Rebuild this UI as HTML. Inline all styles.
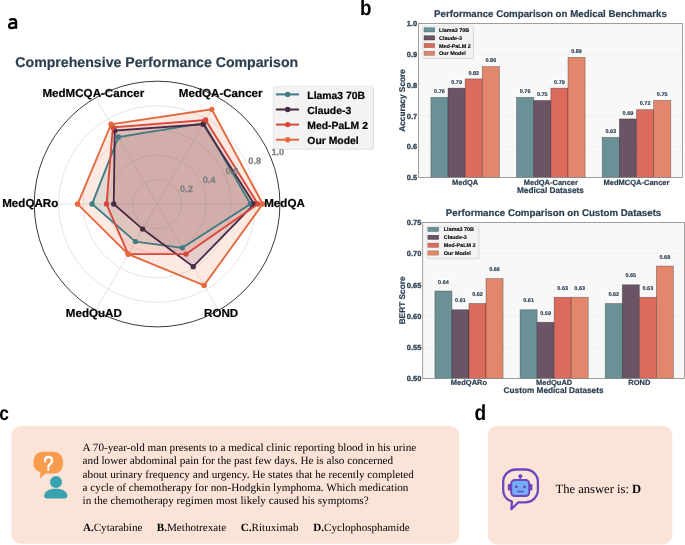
<!DOCTYPE html><html><head><meta charset="utf-8"><style>html,body{margin:0;padding:0;background:#fff;width:685px;height:545px;overflow:hidden}svg{display:block;will-change:transform}text{text-rendering:geometricPrecision}</style></head><body>
<svg width="685" height="545" viewBox="0 0 685 545">
<path d="M9.4,20.2 C10.5,19.3 11.8,19.1 12.9,19.1 C15.2,19.1 16.1,20.3 16.1,22.3 V28.8 M16.1,23.5 C14.8,23.2 13.4,23.1 12.3,23.2 C10.1,23.4 9.1,24.6 9.1,26 C9.1,27.5 10,28 11.3,28 C13.6,28 16,26.9 16.1,25" fill="none" stroke="#000" stroke-width="2.3"/>
<text transform="translate(360.1,15.4) scale(0.875,1)" font-family='"Liberation Sans", sans-serif' font-weight="bold" font-size="21.5" fill="#000">b</text>
<text transform="translate(-0.8,419.8) scale(0.87,1)" font-family='"Liberation Sans", sans-serif' font-weight="bold" font-size="20" fill="#000">c</text>
<text transform="translate(474.6,419.7) scale(0.875,1)" font-family='"Liberation Sans", sans-serif' font-weight="bold" font-size="21.8" fill="#000">d</text>
<text x="15.3" y="66.6" font-family='"Liberation Sans", sans-serif' font-weight="bold" font-size="14.15" fill="#2c3e50" stroke="#2c3e50" stroke-width="0.2">Comprehensive Performance Comparison</text>
<circle cx="157.1" cy="204.05" r="24.57" fill="none" stroke="#dadada" stroke-width="0.7"/>
<circle cx="157.1" cy="204.05" r="49.14" fill="none" stroke="#dadada" stroke-width="0.7"/>
<circle cx="157.1" cy="204.05" r="73.71" fill="none" stroke="#dadada" stroke-width="0.7"/>
<circle cx="157.1" cy="204.05" r="98.28" fill="none" stroke="#dadada" stroke-width="0.7"/>
<line x1="157.1" y1="204.05" x2="279.95" y2="204.05" stroke="#dadada" stroke-width="0.7"/>
<line x1="157.1" y1="204.05" x2="218.53" y2="97.66" stroke="#dadada" stroke-width="0.7"/>
<line x1="157.1" y1="204.05" x2="95.68" y2="97.66" stroke="#dadada" stroke-width="0.7"/>
<line x1="157.1" y1="204.05" x2="34.25" y2="204.05" stroke="#dadada" stroke-width="0.7"/>
<line x1="157.1" y1="204.05" x2="95.67" y2="310.44" stroke="#dadada" stroke-width="0.7"/>
<line x1="157.1" y1="204.05" x2="218.53" y2="310.44" stroke="#dadada" stroke-width="0.7"/>
<polygon points="250.47,204.05 203.78,123.19 118.40,137.02 92.06,204.05 135.42,241.60 182.39,247.86" fill="#3e7c82" fill-opacity="0.15" stroke="none"/>
<polygon points="254.15,204.05 203.17,124.26 114.72,130.64 113.74,204.05 142.65,229.08 193.23,266.63" fill="#4a2b47" fill-opacity="0.15" stroke="none"/>
<polygon points="257.84,204.05 205.63,120.00 112.87,127.45 106.51,204.05 128.19,254.12 186.01,254.12" fill="#d8483a" fill-opacity="0.15" stroke="none"/>
<polygon points="262.75,204.05 211.77,109.36 111.03,124.26 77.61,204.05 128.19,254.12 204.07,285.41" fill="#e4693f" fill-opacity="0.15" stroke="none"/>
<polygon points="250.47,204.05 203.78,123.19 118.40,137.02 92.06,204.05 135.42,241.60 182.39,247.86" fill="none" stroke="#3e7c82" stroke-width="1.85" stroke-linejoin="miter"/>
<circle cx="250.47" cy="204.05" r="2.7" fill="#3e7c82"/>
<circle cx="203.78" cy="123.19" r="2.7" fill="#3e7c82"/>
<circle cx="118.40" cy="137.02" r="2.7" fill="#3e7c82"/>
<circle cx="92.06" cy="204.05" r="2.7" fill="#3e7c82"/>
<circle cx="135.42" cy="241.60" r="2.7" fill="#3e7c82"/>
<circle cx="182.39" cy="247.86" r="2.7" fill="#3e7c82"/>
<polygon points="254.15,204.05 203.17,124.26 114.72,130.64 113.74,204.05 142.65,229.08 193.23,266.63" fill="none" stroke="#4a2b47" stroke-width="1.85" stroke-linejoin="miter"/>
<circle cx="254.15" cy="204.05" r="2.7" fill="#4a2b47"/>
<circle cx="203.17" cy="124.26" r="2.7" fill="#4a2b47"/>
<circle cx="114.72" cy="130.64" r="2.7" fill="#4a2b47"/>
<circle cx="113.74" cy="204.05" r="2.7" fill="#4a2b47"/>
<circle cx="142.65" cy="229.08" r="2.7" fill="#4a2b47"/>
<circle cx="193.23" cy="266.63" r="2.7" fill="#4a2b47"/>
<polygon points="257.84,204.05 205.63,120.00 112.87,127.45 106.51,204.05 128.19,254.12 186.01,254.12" fill="none" stroke="#d8483a" stroke-width="1.85" stroke-linejoin="miter"/>
<circle cx="257.84" cy="204.05" r="2.7" fill="#d8483a"/>
<circle cx="205.63" cy="120.00" r="2.7" fill="#d8483a"/>
<circle cx="112.87" cy="127.45" r="2.7" fill="#d8483a"/>
<circle cx="106.51" cy="204.05" r="2.7" fill="#d8483a"/>
<circle cx="128.19" cy="254.12" r="2.7" fill="#d8483a"/>
<circle cx="186.01" cy="254.12" r="2.7" fill="#d8483a"/>
<polygon points="262.75,204.05 211.77,109.36 111.03,124.26 77.61,204.05 128.19,254.12 204.07,285.41" fill="none" stroke="#e4693f" stroke-width="1.85" stroke-linejoin="miter"/>
<circle cx="262.75" cy="204.05" r="2.7" fill="#e4693f"/>
<circle cx="211.77" cy="109.36" r="2.7" fill="#e4693f"/>
<circle cx="111.03" cy="124.26" r="2.7" fill="#e4693f"/>
<circle cx="77.61" cy="204.05" r="2.7" fill="#e4693f"/>
<circle cx="128.19" cy="254.12" r="2.7" fill="#e4693f"/>
<circle cx="204.07" cy="285.41" r="2.7" fill="#e4693f"/>
<text x="186.4" y="192.4" text-anchor="middle" font-family='"Liberation Sans", sans-serif' font-weight="bold" font-size="9.2" fill="#7f7f7f" stroke="#7f7f7f" stroke-width="0.25">0.2</text>
<text x="209.1" y="183.2" text-anchor="middle" font-family='"Liberation Sans", sans-serif' font-weight="bold" font-size="9.2" fill="#7f7f7f" stroke="#7f7f7f" stroke-width="0.25">0.4</text>
<text x="232.1" y="174.2" text-anchor="middle" font-family='"Liberation Sans", sans-serif' font-weight="bold" font-size="9.2" fill="#7f7f7f" stroke="#7f7f7f" stroke-width="0.25">0.6</text>
<text x="254.7" y="164.4" text-anchor="middle" font-family='"Liberation Sans", sans-serif' font-weight="bold" font-size="9.2" fill="#7f7f7f" stroke="#7f7f7f" stroke-width="0.25">0.8</text>
<text x="277.8" y="155.2" text-anchor="middle" font-family='"Liberation Sans", sans-serif' font-weight="bold" font-size="9.2" fill="#7f7f7f" stroke="#7f7f7f" stroke-width="0.25">1.0</text>
<text x="264.2" y="206.6" font-family='"Liberation Sans", sans-serif' font-weight="bold" font-size="11.6" fill="#000" stroke="#000" stroke-width="0.2">MedQA</text>
<text x="178.8" y="96.8" font-family='"Liberation Sans", sans-serif' font-weight="bold" font-size="11.6" fill="#000" stroke="#000" stroke-width="0.2">MedQA-Cancer</text>
<text x="42.4" y="96.8" font-family='"Liberation Sans", sans-serif' font-weight="bold" font-size="11.6" fill="#000" stroke="#000" stroke-width="0.2">MedMCQA-Cancer</text>
<text x="2.2" y="206.6" font-family='"Liberation Sans", sans-serif' font-weight="bold" font-size="11.6" fill="#000" stroke="#000" stroke-width="0.2">MedQARo</text>
<text x="65.8" y="316.5" font-family='"Liberation Sans", sans-serif' font-weight="bold" font-size="11.6" fill="#000" stroke="#000" stroke-width="0.2">MedQuAD</text>
<text x="204.1" y="316.5" font-family='"Liberation Sans", sans-serif' font-weight="bold" font-size="11.6" fill="#000" stroke="#000" stroke-width="0.2">ROND</text>
<circle cx="157.1" cy="204.05" r="122.85" fill="none" stroke="#222" stroke-width="0.9"/>
<rect x="274.1" y="87.2" width="99.9" height="62.4" rx="2" fill="#000" fill-opacity="0.12"/>
<rect x="273.3" y="86.4" width="99.9" height="62.6" rx="2" fill="#f3f3f3" stroke="#dadada" stroke-width="0.6"/>
<line x1="275.9" y1="94.4" x2="299" y2="94.4" stroke="#3e7c82" stroke-width="2"/>
<circle cx="287.7" cy="94.4" r="2.7" fill="#3e7c82"/>
<text x="307.3" y="98.5" font-family='"Liberation Sans", sans-serif' font-weight="bold" font-size="10.4" fill="#000" stroke="#000" stroke-width="0.2">Llama3 70B</text>
<line x1="275.9" y1="109.5" x2="299" y2="109.5" stroke="#4a2b47" stroke-width="2"/>
<circle cx="287.7" cy="109.5" r="2.7" fill="#4a2b47"/>
<text x="307.3" y="113.6" font-family='"Liberation Sans", sans-serif' font-weight="bold" font-size="10.4" fill="#000" stroke="#000" stroke-width="0.2">Claude-3</text>
<line x1="275.9" y1="124.6" x2="299" y2="124.6" stroke="#d8483a" stroke-width="2"/>
<circle cx="287.7" cy="124.6" r="2.7" fill="#d8483a"/>
<text x="307.3" y="128.7" font-family='"Liberation Sans", sans-serif' font-weight="bold" font-size="10.4" fill="#000" stroke="#000" stroke-width="0.2">Med-PaLM 2</text>
<line x1="275.9" y1="139.7" x2="299" y2="139.7" stroke="#e4693f" stroke-width="2"/>
<circle cx="287.7" cy="139.7" r="2.7" fill="#e4693f"/>
<text x="307.3" y="143.8" font-family='"Liberation Sans", sans-serif' font-weight="bold" font-size="10.4" fill="#000" stroke="#000" stroke-width="0.2">Our Model</text>
<rect x="418.5" y="23.5" width="263.9" height="153.9" fill="#f8f8f8"/>
<line x1="418.5" y1="177.40" x2="682.4" y2="177.40" stroke="#e8e8e8" stroke-width="0.6" stroke-dasharray="3,1"/>
<line x1="418.5" y1="146.62" x2="682.4" y2="146.62" stroke="#e8e8e8" stroke-width="0.6" stroke-dasharray="3,1"/>
<line x1="418.5" y1="115.84" x2="682.4" y2="115.84" stroke="#e8e8e8" stroke-width="0.6" stroke-dasharray="3,1"/>
<line x1="418.5" y1="85.06" x2="682.4" y2="85.06" stroke="#e8e8e8" stroke-width="0.6" stroke-dasharray="3,1"/>
<line x1="418.5" y1="54.28" x2="682.4" y2="54.28" stroke="#e8e8e8" stroke-width="0.6" stroke-dasharray="3,1"/>
<line x1="418.5" y1="23.50" x2="682.4" y2="23.50" stroke="#e8e8e8" stroke-width="0.6" stroke-dasharray="3,1"/>
<rect x="430.90" y="97.37" width="17.14" height="80.03" fill="#6a9296" stroke="#222" stroke-opacity="0.45" stroke-width="0.7"/>
<rect x="432.97" y="88.09" width="13" height="6.4" fill="#fff" fill-opacity="0.85"/>
<text x="439.47" y="93.09" text-anchor="middle" font-family='"Liberation Sans", sans-serif' font-weight="bold" font-size="5.5" fill="#2c3e50" stroke="#2c3e50" stroke-width="0.18">0.76</text>
<rect x="448.04" y="88.14" width="17.14" height="89.26" fill="#6a5466" stroke="#222" stroke-opacity="0.45" stroke-width="0.7"/>
<rect x="450.10" y="78.86" width="13" height="6.4" fill="#fff" fill-opacity="0.85"/>
<text x="456.60" y="83.86" text-anchor="middle" font-family='"Liberation Sans", sans-serif' font-weight="bold" font-size="5.5" fill="#2c3e50" stroke="#2c3e50" stroke-width="0.18">0.79</text>
<rect x="465.17" y="78.90" width="17.14" height="98.50" fill="#dc6b5e" stroke="#222" stroke-opacity="0.45" stroke-width="0.7"/>
<rect x="467.24" y="69.63" width="13" height="6.4" fill="#fff" fill-opacity="0.85"/>
<text x="473.74" y="74.63" text-anchor="middle" font-family='"Liberation Sans", sans-serif' font-weight="bold" font-size="5.5" fill="#2c3e50" stroke="#2c3e50" stroke-width="0.18">0.82</text>
<rect x="482.31" y="66.59" width="17.14" height="110.81" fill="#e2876b" stroke="#222" stroke-opacity="0.45" stroke-width="0.7"/>
<rect x="484.37" y="57.31" width="13" height="6.4" fill="#fff" fill-opacity="0.85"/>
<text x="490.87" y="62.31" text-anchor="middle" font-family='"Liberation Sans", sans-serif' font-weight="bold" font-size="5.5" fill="#2c3e50" stroke="#2c3e50" stroke-width="0.18">0.86</text>
<text x="465.17" y="184.6" text-anchor="middle" font-family='"Liberation Sans", sans-serif' font-weight="bold" font-size="7.5" fill="#2c3e50" stroke="#2c3e50" stroke-width="0.2">MedQA</text>
<rect x="516.58" y="97.37" width="17.14" height="80.03" fill="#6a9296" stroke="#222" stroke-opacity="0.45" stroke-width="0.7"/>
<rect x="518.65" y="88.09" width="13" height="6.4" fill="#fff" fill-opacity="0.85"/>
<text x="525.15" y="93.09" text-anchor="middle" font-family='"Liberation Sans", sans-serif' font-weight="bold" font-size="5.5" fill="#2c3e50" stroke="#2c3e50" stroke-width="0.18">0.76</text>
<rect x="533.71" y="100.45" width="17.14" height="76.95" fill="#6a5466" stroke="#222" stroke-opacity="0.45" stroke-width="0.7"/>
<rect x="535.78" y="91.17" width="13" height="6.4" fill="#fff" fill-opacity="0.85"/>
<text x="542.28" y="96.17" text-anchor="middle" font-family='"Liberation Sans", sans-serif' font-weight="bold" font-size="5.5" fill="#2c3e50" stroke="#2c3e50" stroke-width="0.18">0.75</text>
<rect x="550.85" y="88.14" width="17.14" height="89.26" fill="#dc6b5e" stroke="#222" stroke-opacity="0.45" stroke-width="0.7"/>
<rect x="552.92" y="78.86" width="13" height="6.4" fill="#fff" fill-opacity="0.85"/>
<text x="559.42" y="83.86" text-anchor="middle" font-family='"Liberation Sans", sans-serif' font-weight="bold" font-size="5.5" fill="#2c3e50" stroke="#2c3e50" stroke-width="0.18">0.79</text>
<rect x="567.99" y="57.36" width="17.14" height="120.04" fill="#e2876b" stroke="#222" stroke-opacity="0.45" stroke-width="0.7"/>
<rect x="570.05" y="48.08" width="13" height="6.4" fill="#fff" fill-opacity="0.85"/>
<text x="576.55" y="53.08" text-anchor="middle" font-family='"Liberation Sans", sans-serif' font-weight="bold" font-size="5.5" fill="#2c3e50" stroke="#2c3e50" stroke-width="0.18">0.89</text>
<text x="550.85" y="184.6" text-anchor="middle" font-family='"Liberation Sans", sans-serif' font-weight="bold" font-size="7.5" fill="#2c3e50" stroke="#2c3e50" stroke-width="0.2">MedQA-Cancer</text>
<rect x="602.26" y="137.39" width="17.14" height="40.01" fill="#6a9296" stroke="#222" stroke-opacity="0.45" stroke-width="0.7"/>
<rect x="604.33" y="128.11" width="13" height="6.4" fill="#fff" fill-opacity="0.85"/>
<text x="610.83" y="133.11" text-anchor="middle" font-family='"Liberation Sans", sans-serif' font-weight="bold" font-size="5.5" fill="#2c3e50" stroke="#2c3e50" stroke-width="0.18">0.63</text>
<rect x="619.39" y="118.92" width="17.14" height="58.48" fill="#6a5466" stroke="#222" stroke-opacity="0.45" stroke-width="0.7"/>
<rect x="621.46" y="109.64" width="13" height="6.4" fill="#fff" fill-opacity="0.85"/>
<text x="627.96" y="114.64" text-anchor="middle" font-family='"Liberation Sans", sans-serif' font-weight="bold" font-size="5.5" fill="#2c3e50" stroke="#2c3e50" stroke-width="0.18">0.69</text>
<rect x="636.53" y="109.68" width="17.14" height="67.72" fill="#dc6b5e" stroke="#222" stroke-opacity="0.45" stroke-width="0.7"/>
<rect x="638.60" y="100.41" width="13" height="6.4" fill="#fff" fill-opacity="0.85"/>
<text x="645.10" y="105.41" text-anchor="middle" font-family='"Liberation Sans", sans-serif' font-weight="bold" font-size="5.5" fill="#2c3e50" stroke="#2c3e50" stroke-width="0.18">0.72</text>
<rect x="653.66" y="100.45" width="17.14" height="76.95" fill="#e2876b" stroke="#222" stroke-opacity="0.45" stroke-width="0.7"/>
<rect x="655.73" y="91.17" width="13" height="6.4" fill="#fff" fill-opacity="0.85"/>
<text x="662.23" y="96.17" text-anchor="middle" font-family='"Liberation Sans", sans-serif' font-weight="bold" font-size="5.5" fill="#2c3e50" stroke="#2c3e50" stroke-width="0.18">0.75</text>
<text x="636.53" y="184.6" text-anchor="middle" font-family='"Liberation Sans", sans-serif' font-weight="bold" font-size="7.5" fill="#2c3e50" stroke="#2c3e50" stroke-width="0.2">MedMCQA-Cancer</text>
<rect x="418.5" y="23.5" width="263.9" height="153.9" fill="none" stroke="#8a8a8a" stroke-width="0.8"/>
<text x="417.1" y="180.10" text-anchor="end" font-family='"Liberation Sans", sans-serif' font-weight="bold" font-size="7.45" fill="#2c3e50" stroke="#2c3e50" stroke-width="0.3">0.5</text>
<text x="417.1" y="149.32" text-anchor="end" font-family='"Liberation Sans", sans-serif' font-weight="bold" font-size="7.45" fill="#2c3e50" stroke="#2c3e50" stroke-width="0.3">0.6</text>
<text x="417.1" y="118.54" text-anchor="end" font-family='"Liberation Sans", sans-serif' font-weight="bold" font-size="7.45" fill="#2c3e50" stroke="#2c3e50" stroke-width="0.3">0.7</text>
<text x="417.1" y="87.76" text-anchor="end" font-family='"Liberation Sans", sans-serif' font-weight="bold" font-size="7.45" fill="#2c3e50" stroke="#2c3e50" stroke-width="0.3">0.8</text>
<text x="417.1" y="56.98" text-anchor="end" font-family='"Liberation Sans", sans-serif' font-weight="bold" font-size="7.45" fill="#2c3e50" stroke="#2c3e50" stroke-width="0.3">0.9</text>
<text x="417.1" y="26.20" text-anchor="end" font-family='"Liberation Sans", sans-serif' font-weight="bold" font-size="7.45" fill="#2c3e50" stroke="#2c3e50" stroke-width="0.3">1.0</text>
<text x="550.45" y="16.8" text-anchor="middle" font-family='"Liberation Sans", sans-serif' font-weight="bold" font-size="9.72" fill="#2c3e50" stroke="#2c3e50" stroke-width="0.2">Performance Comparison on Medical Benchmarks</text>
<text transform="translate(405.4,100.45) rotate(-90)" text-anchor="middle" font-family='"Liberation Sans", sans-serif' font-weight="bold" font-size="8.3" fill="#2c3e50" stroke="#2c3e50" stroke-width="0.2">Accuracy Score</text>
<text x="550.45" y="192.8" text-anchor="middle" font-family='"Liberation Sans", sans-serif' font-weight="bold" font-size="8.25" fill="#2c3e50" stroke="#2c3e50" stroke-width="0.2">Medical Datasets</text>
<rect x="422.90" y="26.80" width="51.1" height="32.1" rx="1" fill="#000" fill-opacity="0.13"/>
<rect x="422.2" y="26" width="51.1" height="32.1" rx="1" fill="#f3f3f3" stroke="#d8d8d8" stroke-width="0.5"/>
<rect x="424" y="27.80" width="10.8" height="4.2" fill="#6a9296" stroke="#3f5f62" stroke-width="0.4"/>
<text x="439" y="31.90" font-family='"Liberation Sans", sans-serif' font-weight="bold" font-size="5.45" fill="#000" stroke="#000" stroke-width="0.1">Llama3 70B</text>
<rect x="424" y="35.80" width="10.8" height="4.2" fill="#6a5466" stroke="#3c2c3a" stroke-width="0.4"/>
<text x="439" y="39.90" font-family='"Liberation Sans", sans-serif' font-weight="bold" font-size="5.45" fill="#000" stroke="#000" stroke-width="0.1">Claude-3</text>
<rect x="424" y="43.50" width="10.8" height="4.2" fill="#dc6b5e" stroke="#8a4a42" stroke-width="0.4"/>
<text x="439" y="47.60" font-family='"Liberation Sans", sans-serif' font-weight="bold" font-size="5.45" fill="#000" stroke="#000" stroke-width="0.1">Med-PaLM 2</text>
<rect x="424" y="51.20" width="10.8" height="4.2" fill="#e2876b" stroke="#8c5a48" stroke-width="0.4"/>
<text x="439" y="55.30" font-family='"Liberation Sans", sans-serif' font-weight="bold" font-size="5.45" fill="#000" stroke="#000" stroke-width="0.1">Our Model</text>
<rect x="422.7" y="222.4" width="261.7" height="155.99999999999997" fill="#f8f8f8"/>
<line x1="422.7" y1="378.40" x2="684.4" y2="378.40" stroke="#e8e8e8" stroke-width="0.6" stroke-dasharray="3,1"/>
<line x1="422.7" y1="347.20" x2="684.4" y2="347.20" stroke="#e8e8e8" stroke-width="0.6" stroke-dasharray="3,1"/>
<line x1="422.7" y1="316.00" x2="684.4" y2="316.00" stroke="#e8e8e8" stroke-width="0.6" stroke-dasharray="3,1"/>
<line x1="422.7" y1="284.80" x2="684.4" y2="284.80" stroke="#e8e8e8" stroke-width="0.6" stroke-dasharray="3,1"/>
<line x1="422.7" y1="253.60" x2="684.4" y2="253.60" stroke="#e8e8e8" stroke-width="0.6" stroke-dasharray="3,1"/>
<line x1="422.7" y1="222.40" x2="684.4" y2="222.40" stroke="#e8e8e8" stroke-width="0.6" stroke-dasharray="3,1"/>
<rect x="434.90" y="291.04" width="17.04" height="87.36" fill="#6a9296" stroke="#222" stroke-opacity="0.45" stroke-width="0.7"/>
<rect x="436.92" y="278.60" width="13" height="6.4" fill="#fff" fill-opacity="0.85"/>
<text x="443.42" y="283.60" text-anchor="middle" font-family='"Liberation Sans", sans-serif' font-weight="bold" font-size="5.5" fill="#2c3e50" stroke="#2c3e50" stroke-width="0.18">0.64</text>
<rect x="451.94" y="309.76" width="17.04" height="68.64" fill="#6a5466" stroke="#222" stroke-opacity="0.45" stroke-width="0.7"/>
<rect x="453.95" y="297.32" width="13" height="6.4" fill="#fff" fill-opacity="0.85"/>
<text x="460.45" y="302.32" text-anchor="middle" font-family='"Liberation Sans", sans-serif' font-weight="bold" font-size="5.5" fill="#2c3e50" stroke="#2c3e50" stroke-width="0.18">0.61</text>
<rect x="468.97" y="303.52" width="17.04" height="74.88" fill="#dc6b5e" stroke="#222" stroke-opacity="0.45" stroke-width="0.7"/>
<rect x="470.99" y="291.08" width="13" height="6.4" fill="#fff" fill-opacity="0.85"/>
<text x="477.49" y="296.08" text-anchor="middle" font-family='"Liberation Sans", sans-serif' font-weight="bold" font-size="5.5" fill="#2c3e50" stroke="#2c3e50" stroke-width="0.18">0.62</text>
<rect x="486.01" y="278.56" width="17.04" height="99.84" fill="#e2876b" stroke="#222" stroke-opacity="0.45" stroke-width="0.7"/>
<rect x="488.03" y="266.12" width="13" height="6.4" fill="#fff" fill-opacity="0.85"/>
<text x="494.53" y="271.12" text-anchor="middle" font-family='"Liberation Sans", sans-serif' font-weight="bold" font-size="5.5" fill="#2c3e50" stroke="#2c3e50" stroke-width="0.18">0.66</text>
<text x="468.97" y="385.2" text-anchor="middle" font-family='"Liberation Sans", sans-serif' font-weight="bold" font-size="7.5" fill="#2c3e50" stroke="#2c3e50" stroke-width="0.2">MedQARo</text>
<rect x="520.08" y="309.76" width="17.04" height="68.64" fill="#6a9296" stroke="#222" stroke-opacity="0.45" stroke-width="0.7"/>
<rect x="522.10" y="297.32" width="13" height="6.4" fill="#fff" fill-opacity="0.85"/>
<text x="528.60" y="302.32" text-anchor="middle" font-family='"Liberation Sans", sans-serif' font-weight="bold" font-size="5.5" fill="#2c3e50" stroke="#2c3e50" stroke-width="0.18">0.61</text>
<rect x="537.11" y="322.24" width="17.04" height="56.16" fill="#6a5466" stroke="#222" stroke-opacity="0.45" stroke-width="0.7"/>
<rect x="539.13" y="309.80" width="13" height="6.4" fill="#fff" fill-opacity="0.85"/>
<text x="545.63" y="314.80" text-anchor="middle" font-family='"Liberation Sans", sans-serif' font-weight="bold" font-size="5.5" fill="#2c3e50" stroke="#2c3e50" stroke-width="0.18">0.59</text>
<rect x="554.15" y="297.28" width="17.04" height="81.12" fill="#dc6b5e" stroke="#222" stroke-opacity="0.45" stroke-width="0.7"/>
<rect x="556.17" y="284.84" width="13" height="6.4" fill="#fff" fill-opacity="0.85"/>
<text x="562.67" y="289.84" text-anchor="middle" font-family='"Liberation Sans", sans-serif' font-weight="bold" font-size="5.5" fill="#2c3e50" stroke="#2c3e50" stroke-width="0.18">0.63</text>
<rect x="571.19" y="297.28" width="17.04" height="81.12" fill="#e2876b" stroke="#222" stroke-opacity="0.45" stroke-width="0.7"/>
<rect x="573.20" y="284.84" width="13" height="6.4" fill="#fff" fill-opacity="0.85"/>
<text x="579.70" y="289.84" text-anchor="middle" font-family='"Liberation Sans", sans-serif' font-weight="bold" font-size="5.5" fill="#2c3e50" stroke="#2c3e50" stroke-width="0.18">0.63</text>
<text x="554.15" y="385.2" text-anchor="middle" font-family='"Liberation Sans", sans-serif' font-weight="bold" font-size="7.5" fill="#2c3e50" stroke="#2c3e50" stroke-width="0.2">MedQuAD</text>
<rect x="605.26" y="303.52" width="17.04" height="74.88" fill="#6a9296" stroke="#222" stroke-opacity="0.45" stroke-width="0.7"/>
<rect x="607.27" y="291.08" width="13" height="6.4" fill="#fff" fill-opacity="0.85"/>
<text x="613.77" y="296.08" text-anchor="middle" font-family='"Liberation Sans", sans-serif' font-weight="bold" font-size="5.5" fill="#2c3e50" stroke="#2c3e50" stroke-width="0.18">0.62</text>
<rect x="622.29" y="284.80" width="17.04" height="93.60" fill="#6a5466" stroke="#222" stroke-opacity="0.45" stroke-width="0.7"/>
<rect x="624.31" y="272.36" width="13" height="6.4" fill="#fff" fill-opacity="0.85"/>
<text x="630.81" y="277.36" text-anchor="middle" font-family='"Liberation Sans", sans-serif' font-weight="bold" font-size="5.5" fill="#2c3e50" stroke="#2c3e50" stroke-width="0.18">0.65</text>
<rect x="639.33" y="297.28" width="17.04" height="81.12" fill="#dc6b5e" stroke="#222" stroke-opacity="0.45" stroke-width="0.7"/>
<rect x="641.35" y="284.84" width="13" height="6.4" fill="#fff" fill-opacity="0.85"/>
<text x="647.85" y="289.84" text-anchor="middle" font-family='"Liberation Sans", sans-serif' font-weight="bold" font-size="5.5" fill="#2c3e50" stroke="#2c3e50" stroke-width="0.18">0.63</text>
<rect x="656.36" y="266.08" width="17.04" height="112.32" fill="#e2876b" stroke="#222" stroke-opacity="0.45" stroke-width="0.7"/>
<rect x="658.38" y="253.64" width="13" height="6.4" fill="#fff" fill-opacity="0.85"/>
<text x="664.88" y="258.64" text-anchor="middle" font-family='"Liberation Sans", sans-serif' font-weight="bold" font-size="5.5" fill="#2c3e50" stroke="#2c3e50" stroke-width="0.18">0.68</text>
<text x="639.33" y="385.2" text-anchor="middle" font-family='"Liberation Sans", sans-serif' font-weight="bold" font-size="7.5" fill="#2c3e50" stroke="#2c3e50" stroke-width="0.2">ROND</text>
<rect x="422.7" y="222.4" width="261.7" height="155.99999999999997" fill="none" stroke="#8a8a8a" stroke-width="0.8"/>
<text x="421.3" y="381.10" text-anchor="end" font-family='"Liberation Sans", sans-serif' font-weight="bold" font-size="7.45" fill="#2c3e50" stroke="#2c3e50" stroke-width="0.3">0.50</text>
<text x="421.3" y="349.90" text-anchor="end" font-family='"Liberation Sans", sans-serif' font-weight="bold" font-size="7.45" fill="#2c3e50" stroke="#2c3e50" stroke-width="0.3">0.55</text>
<text x="421.3" y="318.70" text-anchor="end" font-family='"Liberation Sans", sans-serif' font-weight="bold" font-size="7.45" fill="#2c3e50" stroke="#2c3e50" stroke-width="0.3">0.60</text>
<text x="421.3" y="287.50" text-anchor="end" font-family='"Liberation Sans", sans-serif' font-weight="bold" font-size="7.45" fill="#2c3e50" stroke="#2c3e50" stroke-width="0.3">0.65</text>
<text x="421.3" y="256.30" text-anchor="end" font-family='"Liberation Sans", sans-serif' font-weight="bold" font-size="7.45" fill="#2c3e50" stroke="#2c3e50" stroke-width="0.3">0.70</text>
<text x="421.3" y="225.10" text-anchor="end" font-family='"Liberation Sans", sans-serif' font-weight="bold" font-size="7.45" fill="#2c3e50" stroke="#2c3e50" stroke-width="0.3">0.75</text>
<text x="553.55" y="215.5" text-anchor="middle" font-family='"Liberation Sans", sans-serif' font-weight="bold" font-size="9.72" fill="#2c3e50" stroke="#2c3e50" stroke-width="0.2">Performance Comparison on Custom Datasets</text>
<text transform="translate(404.5,300.40) rotate(-90)" text-anchor="middle" font-family='"Liberation Sans", sans-serif' font-weight="bold" font-size="8.3" fill="#2c3e50" stroke="#2c3e50" stroke-width="0.2">BERT Score</text>
<text x="553.55" y="393.4" text-anchor="middle" font-family='"Liberation Sans", sans-serif' font-weight="bold" font-size="8.25" fill="#2c3e50" stroke="#2c3e50" stroke-width="0.2">Custom Medical Datasets</text>
<rect x="427.10" y="227.00" width="52.2" height="32.3" rx="1" fill="#000" fill-opacity="0.13"/>
<rect x="426.4" y="226.2" width="52.2" height="32.3" rx="1" fill="#f3f3f3" stroke="#d8d8d8" stroke-width="0.5"/>
<rect x="427.9" y="227.30" width="10.8" height="4.2" fill="#6a9296" stroke="#3f5f62" stroke-width="0.4"/>
<text x="443.8" y="231.40" font-family='"Liberation Sans", sans-serif' font-weight="bold" font-size="5.45" fill="#000" stroke="#000" stroke-width="0.1">Llama3 70B</text>
<rect x="427.9" y="235.20" width="10.8" height="4.2" fill="#6a5466" stroke="#3c2c3a" stroke-width="0.4"/>
<text x="443.8" y="239.30" font-family='"Liberation Sans", sans-serif' font-weight="bold" font-size="5.45" fill="#000" stroke="#000" stroke-width="0.1">Claude-3</text>
<rect x="427.9" y="243.10" width="10.8" height="4.2" fill="#dc6b5e" stroke="#8a4a42" stroke-width="0.4"/>
<text x="443.8" y="247.20" font-family='"Liberation Sans", sans-serif' font-weight="bold" font-size="5.45" fill="#000" stroke="#000" stroke-width="0.1">Med-PaLM 2</text>
<rect x="427.9" y="250.90" width="10.8" height="4.2" fill="#e2876b" stroke="#8c5a48" stroke-width="0.4"/>
<text x="443.8" y="255.00" font-family='"Liberation Sans", sans-serif' font-weight="bold" font-size="5.45" fill="#000" stroke="#000" stroke-width="0.1">Our Model</text>
<rect x="11.4" y="426" width="447.8" height="117.7" rx="9" fill="#fce3d8"/>
<path d="M42.5,451.8 H54 A9,9 0 0 1 63,460.8 V464.6 A9,9 0 0 1 54,473.6 H45.5 L39.9,478.5 L40.5,472.3 A9,9 0 0 1 33.5,464.6 V460.8 A9,9 0 0 1 42.5,451.8 Z" fill="#f99b4c"/>
<path d="M45,461.2 C45,458.6 46.5,457 48.5,457 C50.6,457 52.1,458.6 52.1,460.8 C52.1,462.6 51.1,463.4 50.1,464.1 C49,464.8 48.3,465.4 48.3,466.8" fill="none" stroke="#fff" stroke-width="2.35" stroke-linecap="round"/>
<circle cx="48.3" cy="469.4" r="1.25" fill="#fff"/>
<circle cx="56" cy="482.1" r="6" fill="#3aa2ae"/>
<path d="M44.1,496 C44.1,491.5 49,488.8 55.8,488.8 C62.6,488.8 67.5,491.5 67.5,496 Q67.5,498.4 65,498.4 H46.6 Q44.1,498.4 44.1,496 Z" fill="#3aa2ae"/>
<text x="82.6" y="451.0" font-family='"Liberation Serif", serif' font-size="11.18" fill="#000">A 70-year-old man presents to a medical clinic reporting blood in his urine</text>
<text x="82.6" y="464.3" font-family='"Liberation Serif", serif' font-size="11.18" fill="#000">and lower abdominal pain for the past few days. He is also concerned</text>
<text x="82.6" y="477.6" font-family='"Liberation Serif", serif' font-size="11.18" fill="#000">about urinary frequency and urgency. He states that he recently completed</text>
<text x="82.6" y="490.9" font-family='"Liberation Serif", serif' font-size="11.18" fill="#000">a cycle of chemotherapy for non-Hodgkin lymphoma. Which medication</text>
<text x="82.6" y="504.2" font-family='"Liberation Serif", serif' font-size="11.18" fill="#000">in the chemotherapy regimen most likely caused his symptoms?</text>
<text x="82.9" y="531.1" font-family='"Liberation Serif", serif' font-size="11.12" fill="#000"><tspan font-weight="bold">A.</tspan>Cytarabine</text>
<text x="156.8" y="531.1" font-family='"Liberation Serif", serif' font-size="11.12" fill="#000"><tspan font-weight="bold">B.</tspan>Methotrexate</text>
<text x="240.8" y="531.1" font-family='"Liberation Serif", serif' font-size="11.12" fill="#000"><tspan font-weight="bold">C.</tspan>Rituximab</text>
<text x="313.2" y="531.1" font-family='"Liberation Serif", serif' font-size="11.12" fill="#000"><tspan font-weight="bold">D.</tspan>Cyclophosphamide</text>
<rect x="487.8" y="425.9" width="184.5" height="118.5" rx="9" fill="#fce3d8"/>
<path d="M503.2,489.8 C503.2,495.5 506,499.6 511.9,501.5 L511.4,509.1 L518.4,502.3 H525.4 A12.5,12.5 0 0 0 537.9,489.8 V482 A12.5,12.5 0 0 0 525.4,469.5 H515.7 A12.5,12.5 0 0 0 503.2,482 Z" fill="none" stroke="#6a48c2" stroke-width="2.3" stroke-linejoin="round"/>
<rect x="507.8" y="484" width="3.2" height="6.4" rx="1" fill="#6a48c2"/>
<rect x="529.2" y="484" width="3.2" height="6.4" rx="1" fill="#6a48c2"/>
<line x1="520.2" y1="476" x2="520.2" y2="480" stroke="#6a48c2" stroke-width="1.4"/>
<circle cx="520.4" cy="476.2" r="2" fill="#6a48c2"/>
<rect x="511.2" y="480.1" width="18" height="16" rx="3.5" fill="#74abf3" stroke="#6a48c2" stroke-width="2"/>
<circle cx="516.3" cy="486.9" r="1.45" fill="#6a48c2"/>
<circle cx="524.5" cy="486.9" r="1.45" fill="#6a48c2"/>
<line x1="517.8" y1="491.5" x2="523" y2="491.5" stroke="#6a48c2" stroke-width="1.5" stroke-linecap="round"/>
<text x="555.5" y="492.5" font-family='"Liberation Serif", serif' font-size="12.6" fill="#000">The answer is: <tspan font-weight="bold">D</tspan></text>
</svg></body></html>
